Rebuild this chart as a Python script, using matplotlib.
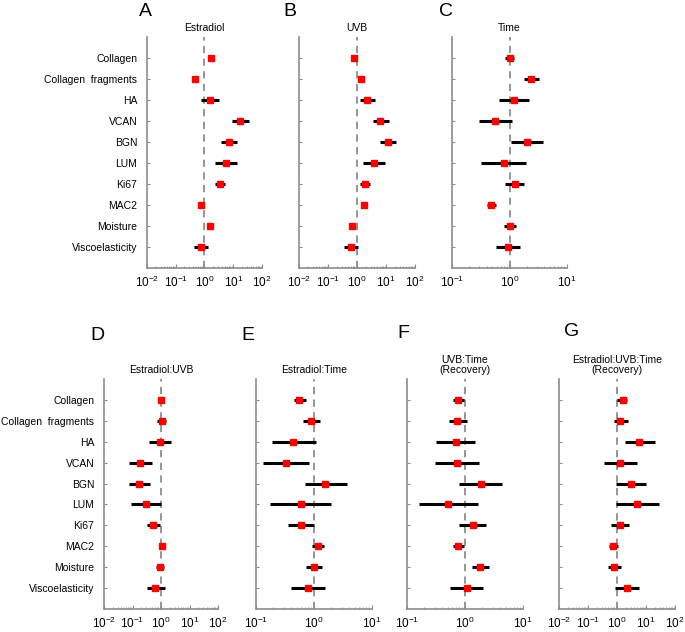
import numpy as np
import matplotlib
matplotlib.use("Agg")
import matplotlib.pyplot as plt
from matplotlib.ticker import LogLocator, NullFormatter

plt.rcParams["font.family"] = ["Liberation Sans", "DejaVu Sans"]

# --------------------------------------------------
# DATA (estimate, lower CI, upper CI)
# --------------------------------------------------
categories = ["Collagen", "Collagen  fragments", "HA", "VCAN", "BGN", "LUM",
              "Ki67", "MAC2", "Moisture", "Viscoelasticity"]

estradiol_est = [1.62, 0.48, 1.53, 17.4, 7.0, 5.5, 3.4, 0.76, 1.53, 0.75]
estradiol_lo = [1.62, 0.48, 0.76, 9.2, 3.9, 2.3, 2.3, 0.76, 1.53, 0.44]
estradiol_hi = [1.62, 0.48, 3.1, 34.0, 13.7, 13.7, 5.2, 0.76, 1.53, 1.3]

uvb_est = [0.77, 1.38, 2.28, 6.45, 11.9, 3.8, 1.9, 1.7, 0.65, 0.62]
uvb_lo = [0.77, 1.1, 1.3, 3.5, 6.45, 1.57, 1.3, 1.7, 0.65, 0.37]
uvb_hi = [0.77, 1.7, 4.3, 12.9, 22.5, 9.6, 2.9, 1.7, 0.65, 1.05]

time_est = [1.0, 2.39, 1.2, 0.57, 2.0, 0.79, 1.24, 0.48, 1.01, 0.95]
time_lo = [0.83, 1.8, 0.67, 0.30, 1.08, 0.32, 0.83, 0.40, 0.80, 0.59]
time_hi = [1.19, 3.25, 2.15, 1.1, 3.8, 1.93, 1.8, 0.58, 1.32, 1.53]

est_uvb_est = [1.0, 1.05, 0.95, 0.185, 0.175, 0.29, 0.54, 1.05, 0.90, 0.62]
est_uvb_lo = [1.0, 0.73, 0.37, 0.073, 0.077, 0.088, 0.32, 1.05, 0.67, 0.32]
est_uvb_hi = [1.0, 1.53, 2.23, 0.47, 0.40, 1.0, 0.95, 1.05, 1.3, 1.34]

est_time_est = [0.56, 0.875, 0.44, 0.33, 1.57, 0.59, 0.59, 1.16, 0.99, 0.79]
est_time_lo = [0.46, 0.64, 0.19, 0.132, 0.69, 0.177, 0.354, 0.94, 0.72, 0.40]
est_time_hi = [0.73, 1.29, 1.07, 0.82, 3.64, 2.0, 1.01, 1.47, 1.38, 1.57]

uvb_time_est = [0.77, 0.74, 0.69, 0.72, 1.86, 0.50, 1.35, 0.77, 1.83, 1.07]
uvb_time_lo = [0.61, 0.52, 0.32, 0.31, 0.80, 0.16, 0.80, 0.61, 1.30, 0.56]
uvb_time_hi = [0.97, 1.1, 1.5, 1.74, 4.37, 1.67, 2.29, 0.97, 2.55, 2.03]

all3_est = [1.57, 1.3, 5.8, 1.3, 2.98, 4.9, 1.27, 0.73, 0.81, 2.22]
all3_lo = [1.03, 0.77, 1.85, 0.35, 0.92, 0.92, 0.60, 0.54, 0.49, 0.85]
all3_hi = [2.16, 2.34, 19.7, 4.8, 9.9, 28.6, 2.68, 1.08, 1.34, 5.8]

panels = [
    ("A", "Estradiol", estradiol_est, estradiol_lo, estradiol_hi, (1e-2, 1e2)),
    ("B", "UVB", uvb_est, uvb_lo, uvb_hi, (1e-2, 1e2)),
    ("C", "Time", time_est, time_lo, time_hi, (1e-1, 1e1)),
    ("D", "Estradiol:UVB", est_uvb_est, est_uvb_lo, est_uvb_hi, (1e-2, 1e2)),
    ("E", "Estradiol:Time", est_time_est, est_time_lo, est_time_hi, (1e-1, 1e1)),
    ("F", "UVB:Time\n(Recovery)", uvb_time_est, uvb_time_lo, uvb_time_hi, (1e-1, 1e1)),
    ("G", "Estradiol:UVB:Time\n(Recovery)", all3_est, all3_lo, all3_hi, (1e-2, 1e2)),
]

# axes rectangles in pixels: left, top, right, bottom
W, H = 685, 632
boxes = [
    (147, 37, 262, 268), (299, 37, 415, 268), (452, 37, 567, 268),
    (104, 379, 218, 609), (256, 379, 372, 609), (407, 379, 523, 609),
    (559, 379, 675, 609),
]
letter_pos = [(145, 12), (290, 12), (446, 12), (97, 335), (248, 335), (403, 333), (572, 332)]

fig = plt.figure(figsize=(W / 100, H / 100), dpi=100)
gray = "#8c8c8c"
ypos = np.arange(len(categories), 0, -1)

for i, (letter, title, est, lo, hi, xlim) in enumerate(panels):
    l, t, r, b = boxes[i]
    ax = fig.add_axes([l / W, 1 - b / H, (r - l) / W, (b - t) / H])
    est = np.array(est)
    xerr = [est - np.array(lo), np.array(hi) - est]
    ax.axvline(1, color=gray, ls=(0, (4, 3)), lw=1.3, zorder=1)
    ax.errorbar(est, ypos, xerr=xerr, fmt="s", color="red", ms=5,
                ecolor="black", elinewidth=2.2, capsize=0, zorder=3)
    ax.set_xscale("log")
    ax.set_xlim(*xlim)
    ax.set_ylim(0, 11)
    ax.set_yticks(ypos)
    if i in (0, 3):
        ax.set_yticklabels(categories, fontsize=7.5)
    else:
        ax.set_yticklabels([])
    ax.xaxis.set_major_locator(LogLocator(base=10, numticks=10))
    ax.xaxis.set_minor_locator(LogLocator(base=10, subs=np.arange(2, 10), numticks=10))
    ax.xaxis.set_minor_formatter(NullFormatter())
    ax.tick_params(axis="x", which="major", direction="in", length=3, color=gray,
                   labelsize=8.5, pad=5)
    ax.tick_params(axis="x", which="minor", direction="in", length=1.5, color=gray)
    ax.tick_params(axis="y", direction="in", length=2, color=gray, pad=7)
    for s in ("top", "right"):
        ax.spines[s].set_visible(False)
    for s in ("left", "bottom"):
        ax.spines[s].set_color(gray)
        ax.spines[s].set_linewidth(1.2)
    ax.set_title(title, fontsize=7.5, pad=4, linespacing=1.1)
    fig.text(letter_pos[i][0] / W, 1 - letter_pos[i][1] / H, letter,
             fontsize=14, ha="center", va="center")

fig.savefig("out.png", dpi=100)
